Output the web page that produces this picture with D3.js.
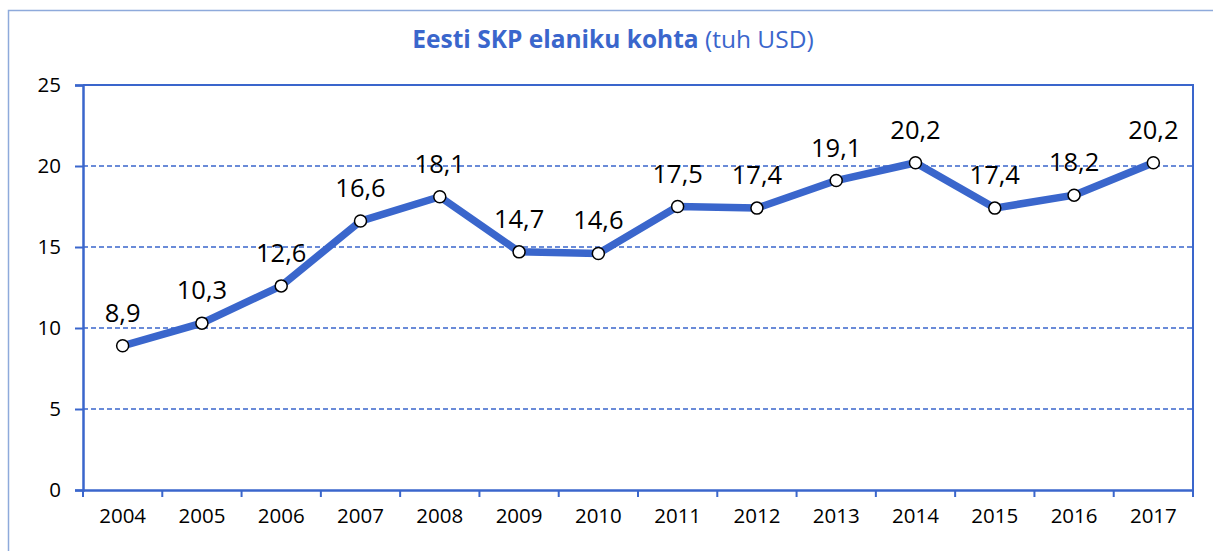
<!DOCTYPE html>
<html>
<head>
<meta charset="utf-8">
<script src="https://cdn.jsdelivr.net/npm/d3@7"></script>
<style>
  body { margin: 0; background: #fff; }
  text { font-family: "Open Sans", sans-serif; }
</style>
</head>
<body>
<script>
// data
var years = ["2004", "2005", "2006", "2007", "2008", "2009", "2010",
             "2011", "2012", "2013", "2014", "2015", "2016", "2017"];
var gdp = [8.9, 10.3, 12.6, 16.6, 18.1, 14.7, 14.6, 17.5, 17.4, 19.1, 20.2, 17.4, 18.2, 20.2];
var yTicks = [0, 5, 10, 15, 20, 25];

var W = 1213, H = 551;
var plot = {left: 83, right: 1193, top: 85, bottom: 490};
var blue = "#3a66cc";

var svg = d3.select("body").append("svg")
    .attr("width", W)
    .attr("height", H);

// outer frame of the chart (runs off the right and bottom of the picture)
svg.append("rect")
    .attr("x", 8.5).attr("y", 10.5)
    .attr("width", 1220).attr("height", 600)
    .attr("fill", "none")
    .attr("stroke", "#8eaadb")
    .attr("stroke-width", 1.5);

// title
var title = svg.append("text")
    .attr("x", 613)
    .attr("y", 48)
    .attr("text-anchor", "middle")
    .attr("fill", blue)
    .style("font-size", "24.5px");
title.append("tspan").attr("font-weight", "bold").text("Eesti SKP elaniku kohta");
title.append("tspan").text(" (tuh USD)");

// scales
var x = d3.scaleBand().domain(years).range([plot.left, plot.right]);
var y = d3.scaleLinear().domain([0, 25]).range([plot.bottom, plot.top]);

// dashed gridlines
svg.append("g")
  .selectAll("line")
  .data(yTicks.filter(function(d) { return d > 0 && d < 25; }))
  .enter().append("line")
    .attr("x1", plot.left).attr("x2", plot.right)
    .attr("y1", function(d) { return y(d); })
    .attr("y2", function(d) { return y(d); })
    .attr("stroke", blue)
    .attr("stroke-width", 1.5)
    .attr("stroke-dasharray", "5,3");

// top and right border of the plot area
svg.append("path")
    .attr("d", "M" + plot.left + "," + y(25) + "H" + plot.right + "V" + plot.bottom)
    .attr("fill", "none")
    .attr("stroke", blue)
    .attr("stroke-width", 2);

// Y axis
var yAxis = svg.append("g")
    .attr("transform", "translate(" + plot.left + ",0)")
    .call(d3.axisLeft(y).tickValues(yTicks).tickSize(8).tickPadding(14));
yAxis.select(".domain").attr("stroke", blue).attr("stroke-width", 2.5);
yAxis.selectAll(".tick line").attr("stroke", blue).attr("stroke-width", 2);
yAxis.selectAll(".tick text")
    .attr("fill", "#000")
    .style("font-size", "20.5px")
    .style("font-family", "Open Sans");

// X axis: labels in the middle of each band, ticks on the band edges
var xAxis = svg.append("g")
    .attr("transform", "translate(0," + plot.bottom + ")")
    .call(d3.axisBottom(x).tickSize(0).tickPadding(18));
xAxis.select(".domain").attr("stroke", blue).attr("stroke-width", 2.5);
xAxis.selectAll(".tick text")
    .attr("fill", "#000")
    .style("font-size", "20.5px")
    .style("font-family", "Open Sans");

var edges = years.map(function(d) { return x(d); }).concat([plot.right]);
svg.append("g")
  .selectAll("line")
  .data(edges)
  .enter().append("line")
    .attr("x1", function(d) { return d; })
    .attr("x2", function(d) { return d; })
    .attr("y1", plot.bottom)
    .attr("y2", plot.bottom + 7)
    .attr("stroke", blue)
    .attr("stroke-width", 2);

// the line
var cx = function(d, i) { return x(years[i]) + x.bandwidth() / 2; };
var line = d3.line()
    .x(cx)
    .y(function(d) { return y(d); });

svg.append("path")
    .datum(gdp)
    .attr("d", line)
    .attr("fill", "none")
    .attr("stroke", blue)
    .attr("stroke-width", 7.5)
    .attr("stroke-linejoin", "round");

// markers
svg.append("g")
  .selectAll("circle")
  .data(gdp)
  .enter().append("circle")
    .attr("cx", cx)
    .attr("cy", function(d) { return y(d); })
    .attr("r", 6)
    .attr("fill", "#fff")
    .attr("stroke", "#000")
    .attr("stroke-width", 1.5);

// value labels
svg.append("g")
  .selectAll("text")
  .data(gdp)
  .enter().append("text")
    .attr("x", cx)
    .attr("y", function(d) { return y(d) - 24; })
    .attr("text-anchor", "middle")
    .attr("fill", "#000")
    .style("font-size", "25.5px")
    .text(function(d) { return d.toFixed(1).replace(".", ","); });
</script>
</body>
</html>
